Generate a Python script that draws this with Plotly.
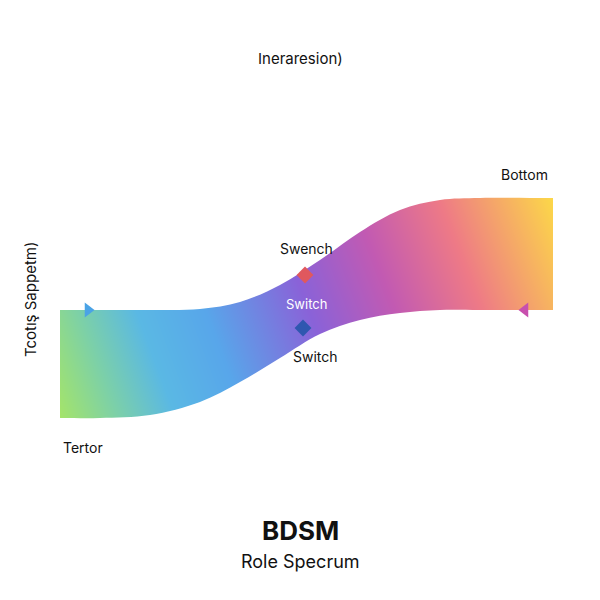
import plotly.graph_objects as go

band_x = [60, 100, 150, 200, 240, 280, 320, 360, 400, 440, 480, 553]
band_top = [310, 310, 310, 309, 302, 285, 260, 232, 210, 200, 198, 198]
band_bot = [418, 418, 415, 402, 382, 358, 334, 320, 313, 310, 310, 310]

grad_x = [60, 553]
grad_y = [198, 418]
grad_z = [[0.14, 1.0], [0.0, 0.85]]

mk_x = [88, 525, 305, 303]
mk_y = [310, 310, 275, 328]
mk_sym = ["triangle-right", "triangle-left", "diamond", "diamond"]
mk_col = ["#4aa3e6", "#c84fae", "#e0585e", "#2f57b0"]

labels = [("Bottom", 524, 174, "#111", 14), ("Swench", 306, 248, "#111", 14),
          ("Switch", 306, 304, "white", 13), ("Switch", 315, 356, "#111", 14),
          ("Tertor", 83, 447, "#111", 14)]

scale = [[0, "#a4e46a"], [0.1, "#7cd0a8"], [0.2, "#5ab8e4"], [0.32, "#58a6ea"], [0.5, "#8a62d8"],
         [0.65, "#c25ab2"], [0.8, "#ee7a86"], [1, "#fcd848"]]

fig = go.Figure()
fig.add_trace(go.Heatmap(x=grad_x, y=grad_y, z=grad_z, zsmooth="best",
                         colorscale=scale, showscale=False, hoverinfo="skip"))
curve = dict(fill="toself", fillcolor="white", line=dict(width=0, shape="spline"),
             mode="lines", hoverinfo="skip")
rect = dict(fill="toself", fillcolor="white", line=dict(width=0),
            mode="lines", hoverinfo="skip")
fig.add_trace(go.Scatter(x=[0] + band_x + [620, 620, 0], y=[band_top[0]] + band_top + [band_top[-1], 0, 0], **curve))
fig.add_trace(go.Scatter(x=[0] + band_x + [620, 620, 0], y=[band_bot[0]] + band_bot + [band_bot[-1], 620, 620], **curve))
fig.add_trace(go.Scatter(x=[0, band_x[0], band_x[0], 0], y=[0, 0, 620, 620], **rect))
fig.add_trace(go.Scatter(x=[band_x[-1], 620, 620, band_x[-1]], y=[0, 0, 620, 620], **rect))
fig.add_trace(go.Scatter(x=mk_x, y=mk_y, mode="markers",
                         marker=dict(symbol=mk_sym, color=mk_col, size=13)))

for t, x, y, c, s in labels:
    fig.add_annotation(x=x, y=y, text=t, showarrow=False, font=dict(color=c, size=s))
fig.add_annotation(x=300, y=58, text="Ineraresion)", showarrow=False, font=dict(size=15, color="#111"))
fig.add_annotation(x=30, y=300, text="Tcotış Sappetm)", textangle=-90, showarrow=False,
                   font=dict(size=15, color="#111"))
fig.add_annotation(x=300, y=530, text="<b>BDSM</b>", showarrow=False, font=dict(size=26, color="#111"))
fig.add_annotation(x=300, y=561, text="Role Specrum", showarrow=False, font=dict(size=18, color="#111"))

fig.update_layout(width=600, height=600, margin=dict(l=0, r=0, t=0, b=0),
                  paper_bgcolor="white", plot_bgcolor="white", showlegend=False,
                  font=dict(family="Inter, Roboto, sans-serif"),
                  xaxis=dict(range=[8, 608], visible=False),
                  yaxis=dict(range=[608, 8], visible=False))
fig.write_html("out.html")
